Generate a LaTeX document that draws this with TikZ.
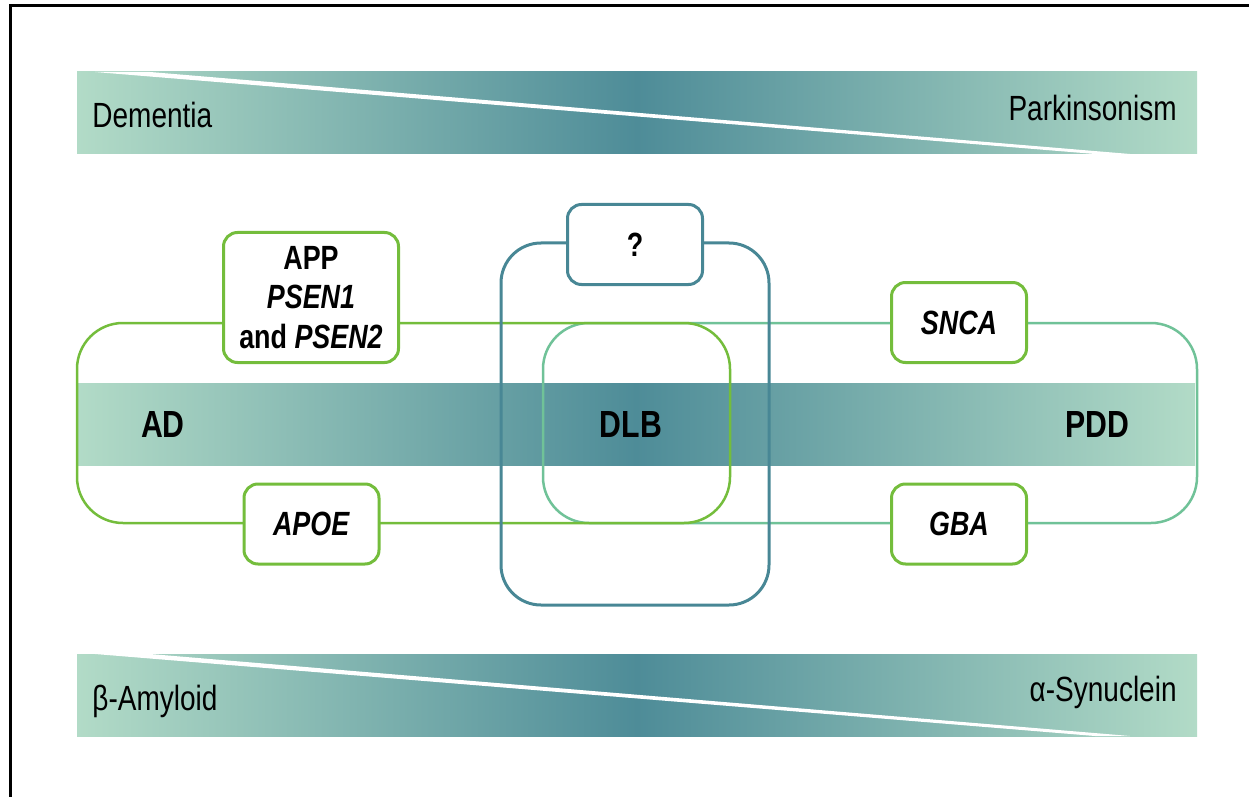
\documentclass[tikz,border=0pt]{standalone}
\usepackage{fontspec}
\setmainfont{Liberation Sans}[FakeStretch=0.8]

\definecolor{bandlight}{RGB}{178,219,199}
\definecolor{banddark}{RGB}{78,140,152}
\definecolor{adgreen}{RGB}{116,189,60}
\definecolor{pddmint}{RGB}{112,194,152}
\definecolor{dlbteal}{RGB}{72,135,149}

\tikzset{
	band/.style={left color=bandlight, right color=bandlight, middle color=banddark},
	loopline/.style={line width=1.25pt, rounded corners=23pt},
	genebox/.style={draw=adgreen, line width=1.5pt, fill=white, rounded corners=7pt,
		inner sep=0pt, minimum width=67.5pt, minimum height=40pt, align=center,
		font=\fontsize{16.8}{19.75}\selectfont\bfseries},
	dxlabel/.style={inner sep=0pt, font=\fontsize{18.9}{22}\selectfont\bfseries},
	gradlabel/.style={inner sep=0pt, font=\fontsize{17.5}{20}\selectfont},
}

\begin{document}
\begin{tikzpicture}[x=0.5pt, y=-0.5pt]

	\useasboundingbox (0,0) rectangle (1249,797);
	\draw[line width=1.5pt] (10.5,797) -- (10.5,5.5) -- (1249,5.5);

	% gradient bars
	\fill[band] (77,72) rectangle (1197,154);
	\fill[white] (95,72) -- (150,72) -- (1130,154) -- (1095,154) -- cycle;
	\fill[band] (77,654) rectangle (1197,736);
	\fill[white] (95,654) -- (150,654) -- (1130,736) -- (1095,736) -- cycle;
	\fill[band] (77,383) rectangle (1195,465);

	\node[gradlabel, anchor=base west] (dem) at (92,128) {Dementia};
	\node[gradlabel, anchor=base east] (park) at (1177,121) {Parkinsonism};
	\node[gradlabel, anchor=base west] (abeta) at (92,710) {β-Amyloid};
	\node[gradlabel, anchor=base east] (asyn) at (1177,701) {α-Synuclein};

	% loops
	\draw[loopline, pddmint] (543,323) rectangle (1197,523);
	\draw[loopline, adgreen] (77,323) rectangle (730,523);
	\draw[dlbteal, line width=1.5pt, rounded corners=20pt] (501,243) rectangle (769,605);

	\node[dxlabel] (ad) at (163,424) {AD};
	\node[dxlabel] (dlb) at (631,424) {DLB};
	\node[dxlabel] (pdd) at (1097,424) {PDD};

	% genes
	\node[genebox, minimum width=87.5pt, minimum height=65pt] (app) at (311,297.5)
		{APP\\\textit{PSEN1}\\and \textit{PSEN2}};
	\node[genebox] (snca) at (959,322.5) {\textit{SNCA}};
	\node[genebox] (apoe) at (311.5,524) {\textit{APOE}};
	\node[genebox] (gba) at (959,524) {\textit{GBA}};
	\node[genebox, draw=dlbteal] (unk) at (635,244.5) {?};
	%	\node[genebox] (x) at (635,560) {};

\end{tikzpicture}
\end{document}
